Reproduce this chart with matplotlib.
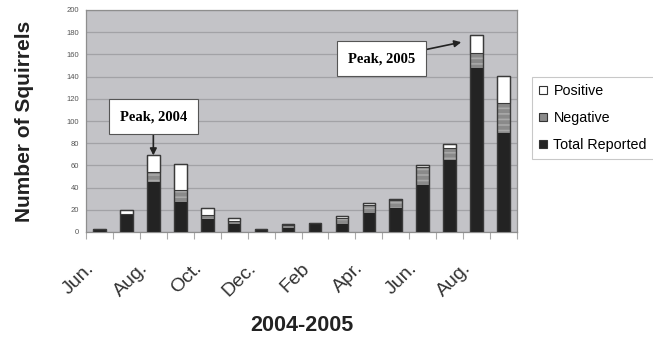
import matplotlib
matplotlib.use("Agg")
import matplotlib.pyplot as plt
from matplotlib.patches import Patch
from matplotlib.transforms import ScaledTranslation
import numpy as np

months = ["Jun.", "Jul.", "Aug.", "Sep.", "Oct.", "Nov.", "Dec.", "Jan.",
          "Feb", "Mar.", "Apr.", "May", "Jun.", "Jul.", "Aug.", "Sep."]
total_reported = [3, 16, 45, 27, 12, 7.5, 3, 4, 8, 7.5, 17.5, 22, 42, 65, 147.5, 89]
negative = [0, 0, 9, 11, 3, 2.5, 0, 2.5, 0, 5.5, 6.5, 6.5, 17, 11, 14, 27]
positive = [0, 3.5, 15, 23, 7, 3, 0, 1, 0, 1, 2, 1, 1, 3, 16, 24.5]
label_every = 2

plt.rcParams['font.family'] = ['Liberation Sans', 'DejaVu Sans']
plt.rcParams['hatch.linewidth'] = 1.2

fig = plt.figure(figsize=(6.53, 3.46), dpi=100)
ax = fig.add_axes([86/653, 1-232/346, 431/653, 222/346])
ax.set_facecolor('#c3c3c7')

x = np.arange(len(months))
w = 0.47
tr = np.array(total_reported)
ng = np.array(negative)
ps = np.array(positive)

ax.bar(x, tr, w, color='#232323', linewidth=0, zorder=3)
ax.bar(x, ng, w, bottom=tr, color='#8a8a8a', edgecolor='#a9a9a9',
       hatch='---', linewidth=0, zorder=3)
ax.bar(x, ps, w, bottom=tr + ng, color='white', edgecolor='#3a3a3a',
       linewidth=0.8, zorder=3)
ax.bar(x, tr + ng + ps, w, fill=False, edgecolor='#3a3a3a', linewidth=1.0, zorder=4)

ax.set_xlim(-0.5, len(months) - 0.5)
ax.set_ylim(0, 200)
ax.set_yticks(np.arange(0, 201, 20))
ax.tick_params(axis='y', length=0, labelsize=5.5, labelcolor='#555555', pad=5)
ax.yaxis.grid(True, color='#a2a2a6', linewidth=0.9, zorder=0)
ax.set_axisbelow(True)

ax.set_xticks(x[::label_every])
ax.set_xticklabels(months[::label_every], rotation=45, ha='right', va='top',
                   rotation_mode='anchor', fontsize=14, color='#333333')
ax.tick_params(axis='x', which='major', length=0, pad=20)
shift = ScaledTranslation(-14/100, 0, fig.dpi_scale_trans)
for lab in ax.get_xticklabels():
    lab.set_transform(lab.get_transform() + shift)
ax.set_xticks(np.arange(-0.5, len(months), 1), minor=True)
ax.tick_params(axis='x', which='minor', length=5, width=0.8, color='#aaaaaa', direction='out')

for s in ax.spines.values():
    s.set_color('#8e8e8e')
    s.set_linewidth(0.9)

ax.set_ylabel('Number of Squirrels', fontsize=15, fontweight='bold', color='#222222')
ax.yaxis.set_label_coords(-0.12, 0.5)
ax.set_xlabel('2004-2005', fontsize=15.5, fontweight='bold', color='#222222')
ax.xaxis.set_label_coords(0.5, -0.374)

bbox = dict(boxstyle='square,pad=0.75', fc='white', ec='#555555', lw=0.8)
serif = ['Liberation Serif', 'DejaVu Serif']
i04 = 2
ax.annotate('Peak, 2004', xy=(x[i04], tr[i04] + ng[i04] + ps[i04]), xytext=(2.0, 104),
            ha='center', va='center', fontsize=10.5, fontweight='bold', family=serif,
            bbox=bbox, zorder=6,
            arrowprops=dict(arrowstyle='-|>', color='#222222', lw=1.2, mutation_scale=10,
                            shrinkA=0, shrinkB=0))
ax.annotate('Peak, 2005', xy=(13.43, 171), xytext=(10.46, 156),
            ha='center', va='center', fontsize=10.5, fontweight='bold', family=serif,
            bbox=bbox, zorder=6,
            arrowprops=dict(arrowstyle='-|>', color='#222222', lw=1.2, mutation_scale=10,
                            shrinkA=0, shrinkB=0))

handles = [Patch(facecolor='white', edgecolor='#333333', lw=0.8),
           Patch(facecolor='#8a8a8a', edgecolor='#333333', lw=0.8),
           Patch(facecolor='#232323', edgecolor='#333333', lw=0.8)]
leg = fig.legend(handles, ['Positive', 'Negative', 'Total Reported'],
                 loc='upper left', bbox_to_anchor=(532/653, 1-77/346),
                 fontsize=10.3, frameon=True, fancybox=False, edgecolor='#bbbbbb',
                 handlelength=0.55, handleheight=0.55, handletextpad=0.45,
                 borderpad=0.5, labelspacing=0.9, borderaxespad=0)
leg.get_frame().set_linewidth(0.8)

fig.savefig('out.png', dpi=100)
